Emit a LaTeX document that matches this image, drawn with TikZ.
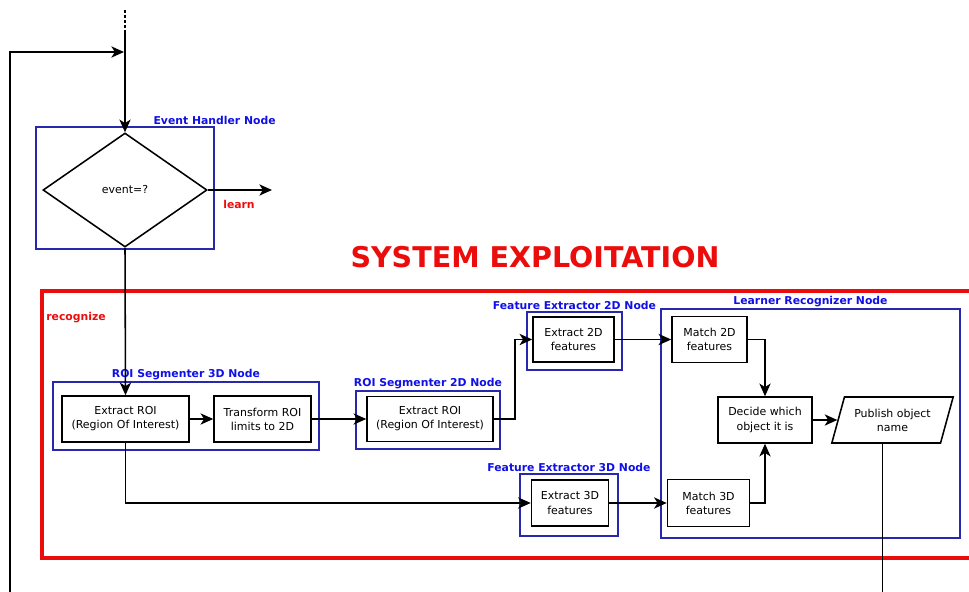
\documentclass[tikz,border=0pt]{standalone}
\usepackage{fontspec}
\setmainfont{DejaVu Sans}
\usetikzlibrary{shapes.geometric,positioning,arrows.meta}
\definecolor{grpblue}{RGB}{40,40,175}
\definecolor{lblblue}{RGB}{15,15,230}
\definecolor{sysred}{RGB}{235,12,12}
\begin{document}
\begin{tikzpicture}[x=0.025cm,y=-0.025cm,>={Stealth[length=9pt,width=8pt,inset=2.5pt]},
  proc/.style={draw,line width=1.1pt,inner sep=0pt,align=center,font=\fontsize{7.8}{10}\selectfont},
  grp/.style={draw=grpblue,line width=0.8pt,inner sep=0pt},
  grplabel/.style={text=lblblue,font=\fontsize{7.7}{9}\selectfont\bfseries,inner sep=1pt},
  redlabel/.style={text=sysred,font=\fontsize{7.7}{9}\selectfont\bfseries},
  link/.style={line width=1.1pt,->}]
  \useasboundingbox (0,0) rectangle (969,592);
  % event handler
  \node[grp,minimum width=4.45cm,minimum height=3.05cm] (evh) at (125,188) {};
  \node[grplabel,above=0pt] (evhlbl) at (evh.north east) {Event Handler Node};
  \node[diamond,draw,line width=1.1pt,minimum width=4.1cm,minimum height=2.85cm,inner sep=0pt,
        font=\fontsize{7.8}{10}\selectfont] (dec) at (125,190) {event=?};
  \coordinate (src) at (125,10);
  \coordinate (srcend) at (125,30);
  \coordinate (learnend) at (272,190);
  \coordinate (fbstart) at (10,592);
  \coordinate (fbin) at (124,52);
  \draw[line width=1.1pt,dash pattern=on 2pt off 1.5pt] (src) -- (srcend);
  \draw[link] (srcend) -- (dec.north);
  \draw[link] (fbstart) |- (fbin);
  \draw[link] (dec.east) -- (learnend);
  \node[redlabel] (learn) at (239,204) {learn};
  % system exploitation frame
  \node[text=sysred,font=\fontsize{20.3}{24}\selectfont\bfseries] (title) at (535,257) {SYSTEM EXPLOITATION};
  \draw[sysred,line width=2.8pt] (969,291) -- (42,291) -- (42,558) -- (969,558);
  \node[redlabel] (recog) at (76,318) {recognize};
  % roi segmenters
  \node[grp,minimum width=6.65cm,minimum height=1.7cm] (roi3dn) at (186,416) {};
  \node[grplabel,above=0pt] (roi3dlbl) at (roi3dn.north) {ROI Segmenter 3D Node};
  \node[proc,minimum width=3.175cm,minimum height=1.15cm] (exroi) at (125.5,419) {Extract ROI\\(Region Of Interest)};
  \node[proc,minimum width=2.425cm,minimum height=1.15cm] (trroi) at (262.5,419) {Transform ROI\\limits to 2D};
  \node[grp,minimum width=3.6cm,minimum height=1.45cm] (roi2dn) at (428,420) {};
  \node[grplabel,above=0pt] (roi2dlbl) at (roi2dn.north) {ROI Segmenter 2D Node};
  \node[proc,minimum width=3.15cm,minimum height=1.125cm] (exroi2) at (430,419) {Extract ROI\\(Region Of Interest)};
  % feature extractors
  \node[grp,minimum width=2.375cm,minimum height=1.45cm] (fe2dn) at (574.5,341) {};
  \node[grplabel,above=0pt] (fe2dlbl) at (fe2dn.north) {Feature Extractor 2D Node};
  \node[proc,minimum width=2.025cm,minimum height=1.125cm] (ex2d) at (573.5,339.5) {Extract 2D\\features};
  \node[grp,minimum width=2.45cm,minimum height=1.55cm] (fe3dn) at (569,505) {};
  \node[grplabel,above=0pt] (fe3dlbl) at (fe3dn.north) {Feature Extractor 3D Node};
  \node[proc,minimum width=1.925cm,minimum height=1.15cm] (ex3d) at (570,503) {Extract 3D\\features};
  % learner recognizer
  \node[grp,minimum width=7.475cm,minimum height=5.725cm] (lrn) at (810.5,423.5) {};
  \node[grplabel,above=0pt] (lrnlbl) at (lrn.north) {Learner Recognizer Node};
  \node[proc,minimum width=1.875cm,minimum height=1.15cm] (m2d) at (709.5,339.5) {Match 2D\\features};
  \node[proc,minimum width=2.05cm,minimum height=1.175cm] (m3d) at (708.5,503) {Match 3D\\features};
  \node[proc,minimum width=2.35cm,minimum height=1.15cm] (decide) at (765,420) {Decide which\\object it is};
  \node[proc,trapezium,trapezium left angle=66,trapezium right angle=114,trapezium stretches=true,
        minimum width=3.05cm,minimum height=1.15cm] (pub) at (892.5,420) {Publish object\\name};
  % connectors
  \draw[link] (dec.south) -- (exroi.north);
  \draw[link] (exroi) -- (trroi);
  \draw[link] (trroi) -- (exroi2);
  \draw[link] (exroi2.east) -- ++(21,0) |- (ex2d.west);
  \draw[link] (exroi.south) |- (ex3d.west);
  \draw[link] (ex2d) -- (m2d);
  \draw[link] (ex3d) -- (m3d);
  \draw[link] (m2d.east) -| (decide.north);
  \draw[link] (m3d.east) -| (decide.south);
  \draw[link] (decide.east) -- (pub.west);
  \draw[line width=1.1pt] ([xshift=-0.25cm]pub.south) -- ++(0,150);
\end{tikzpicture}
\end{document}
